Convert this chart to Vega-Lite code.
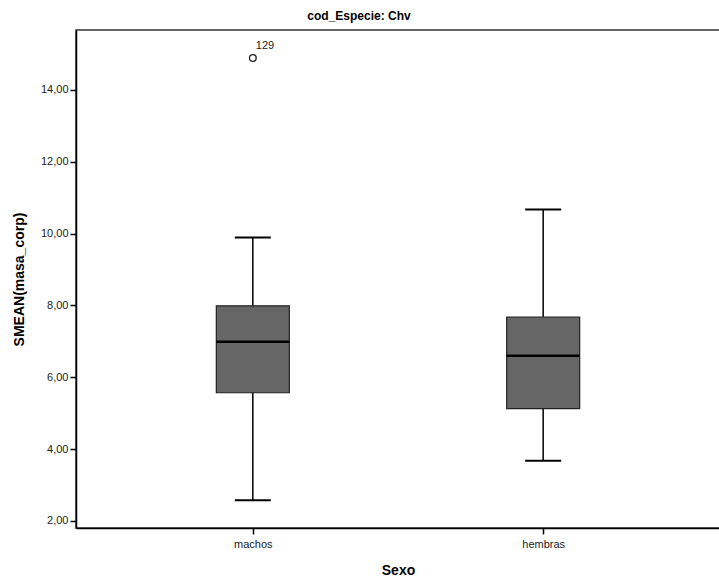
{
  "$schema": "https://vega.github.io/schema/vega-lite/v6.json",
  "autosize": {"type": "none"},
  "padding": {"left": 76, "top": 30, "right": 0, "bottom": 59},
  "width": 644,
  "height": 498,
  "background": "white",
  "title": {
    "text": "cod_Especie: Chv",
    "font": "Liberation Sans",
    "fontSize": 12,
    "fontWeight": "bold",
    "color": "#000000",
    "anchor": "middle",
    "frame": "group",
    "dx": -39,
    "offset": 7
  },
  "config": {
    "view": {"stroke": "#333333", "strokeWidth": 1.5},
    "axis": {
      "domainColor": "#000000",
      "domainWidth": 1.5,
      "tickColor": "#000000",
      "tickWidth": 1.5,
      "tickSize": 6,
      "grid": false,
      "labelFont": "Liberation Sans",
      "labelFontSize": 11,
      "labelColor": "#222222",
      "titleFont": "Liberation Sans",
      "titleFontSize": 14,
      "titleFontWeight": "bold",
      "titleColor": "#000000"
    }
  },
  "layer": [
    {
      "data": {
        "values": [
          {"sexo": "machos", "minimo": 2.58, "q1": 5.57, "mediana": 6.99, "q3": 7.99, "maximo": 9.89},
          {"sexo": "hembras", "minimo": 3.68, "q1": 5.13, "mediana": 6.6, "q3": 7.68, "maximo": 10.67}
        ]
      },
      "encoding": {
        "x": {
          "field": "sexo",
          "type": "nominal",
          "sort": ["machos", "hembras"],
          "scale": {"type": "point", "padding": 0.609, "domain": ["machos", "hembras"]},
          "axis": {"title": "Sexo", "labelAngle": 0, "labelPadding": 4, "titlePadding": 14}
        }
      },
      "layer": [
        {
          "mark": {"type": "rule", "color": "#000000", "strokeWidth": 1.5},
          "encoding": {
            "y": {
              "field": "minimo",
              "type": "quantitative",
              "scale": {"domain": [1.805, 15.67], "nice": false, "zero": false},
              "axis": {
                "title": "SMEAN(masa_corp)",
                "values": [2, 4, 6, 8, 10, 12, 14],
                "labelExpr": "replace(format(datum.value, '.2f'), '.', ',')",
                "labelPadding": 2,
                "titlePadding": 14
              }
            },
            "y2": {"field": "maximo"}
          }
        },
        {
          "mark": {"type": "bar", "size": 73, "color": "#666666", "stroke": "#222222", "strokeWidth": 1.2},
          "encoding": {
            "y": {"field": "q1", "type": "quantitative"},
            "y2": {"field": "q3"}
          }
        },
        {
          "mark": {"type": "tick", "size": 73, "thickness": 2.5, "color": "#000000", "opacity": 1},
          "encoding": {"y": {"field": "mediana", "type": "quantitative"}}
        },
        {
          "mark": {"type": "tick", "size": 36, "thickness": 2, "color": "#000000", "opacity": 1},
          "encoding": {"y": {"field": "minimo", "type": "quantitative"}}
        },
        {
          "mark": {"type": "tick", "size": 36, "thickness": 2, "color": "#000000", "opacity": 1},
          "encoding": {"y": {"field": "maximo", "type": "quantitative"}}
        }
      ]
    },
    {
      "data": {"values": [{"sexo": "machos", "valor": 14.89, "caso": "129"}]},
      "encoding": {
        "x": {"field": "sexo", "type": "nominal", "sort": ["machos", "hembras"]},
        "y": {"field": "valor", "type": "quantitative"}
      },
      "layer": [
        {
          "mark": {"type": "point", "shape": "circle", "size": 45, "filled": false, "color": "#222222", "strokeWidth": 1.3, "opacity": 1}
        },
        {
          "mark": {"type": "text", "font": "Liberation Sans", "fontSize": 11, "color": "#222222", "align": "left", "dx": 3, "dy": -12},
          "encoding": {"text": {"field": "caso"}}
        }
      ]
    }
  ]
}
